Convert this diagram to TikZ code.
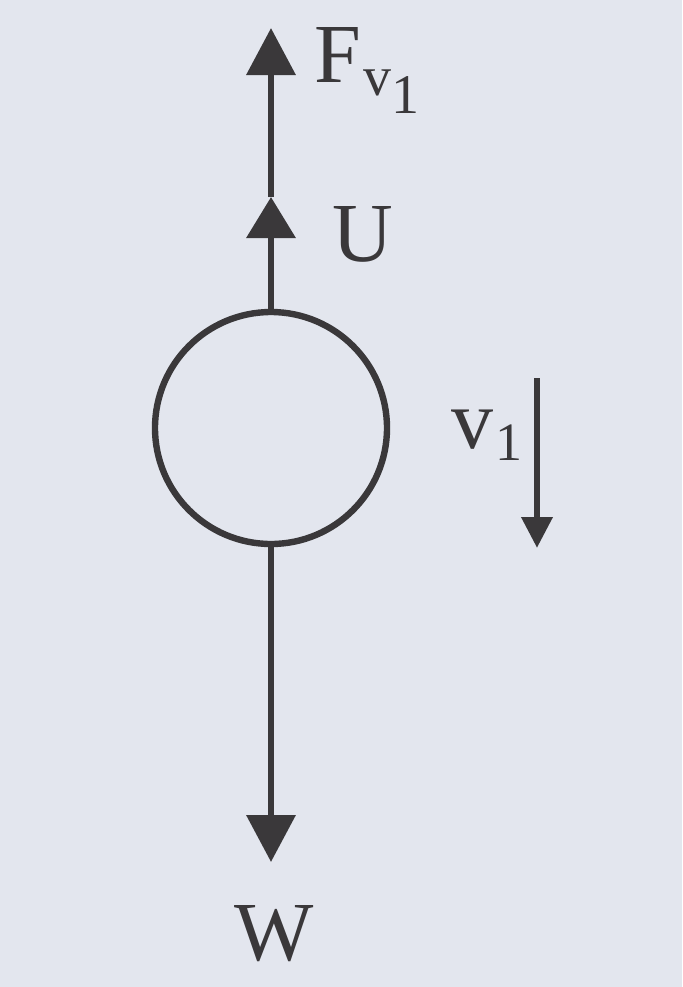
\documentclass[tikz,border=0pt]{standalone}
\usepackage{fontspec}
\setmainfont{Liberation Serif}
\usetikzlibrary{arrows.meta}
\definecolor{paper}{RGB}{227,230,238}
\definecolor{ink}{RGB}{58,56,58}
\begin{document}
\begin{tikzpicture}[x=0.5pt,y=-0.5pt,
  force/.style={draw=ink, line width=3.4pt},
  lbl/.style={text=ink, inner sep=0pt, anchor=base west, font=\fontsize{42}{42}\selectfont}]
\fill[paper] (0,0) rectangle (682,987);
\useasboundingbox (0,0) rectangle (682,987);
\node[circle, draw=ink, line width=3.2pt, minimum size=116pt, inner sep=0pt] (ball) at (271,428) {};
\coordinate (uTip) at (271,197);
\coordinate (fTip) at (271,28);
\coordinate (wTip) at (271,862);
\coordinate (vTop) at (537,378);
\coordinate (vTip) at (537,548);
\draw[force, -{Triangle[length=20.5pt,width=24pt]}] (ball.north) -- (uTip);
\draw[force, -{Triangle[length=23.5pt,width=24pt]}] (uTip) -- (fTip);
\draw[force, -{Triangle[length=23.5pt,width=24pt]}] (ball.south) -- (wTip);
\draw[force, -{Triangle[length=15.5pt,width=15pt]}] (vTop) -- (vTip);
\node[lbl] (F) at (314,82) {F\hspace{1pt}\raisebox{-6.5pt}{\fontsize{28}{28}\selectfont v\raisebox{-9pt}{1}}};
\node[lbl] (U) at (332,261) {U};
\node[lbl] (W) at (234,960) {W};
\node[lbl] (V) at (451,448) {v\hspace{1pt}\raisebox{-6pt}{\fontsize{27}{27}\selectfont 1}};
\end{tikzpicture}
\end{document}
